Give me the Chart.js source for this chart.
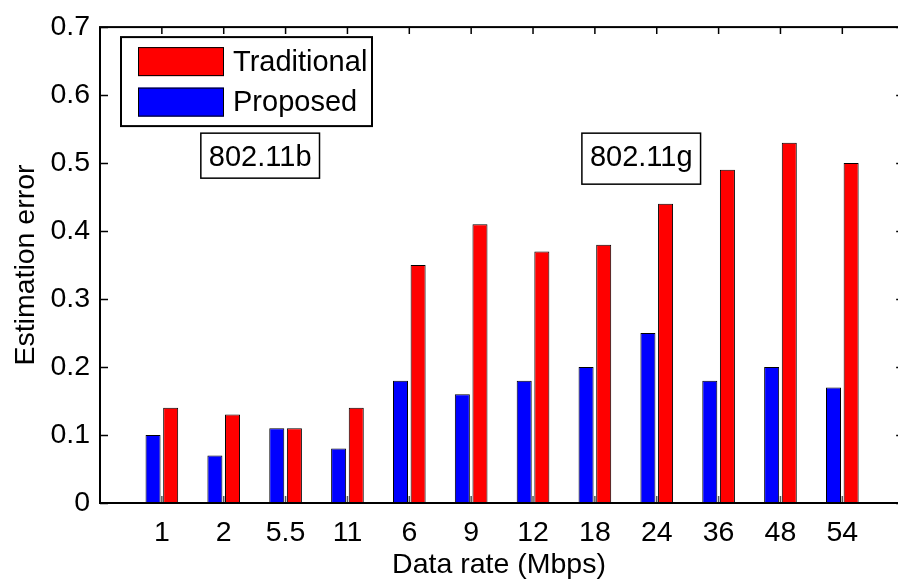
<!DOCTYPE html>
<html>
<head>
<meta charset="utf-8">
<script src="https://cdn.jsdelivr.net/npm/chart.js@4.4.1/dist/chart.umd.min.js"></script>
<style>
  html, body { margin: 0; padding: 0; background: #fff; overflow: hidden; }
  #wrap { width: 898px; height: 585px; }
</style>
</head>
<body>
<div id="wrap"><canvas id="c" width="898" height="585"></canvas></div>
<script>
// Data rates (Mbps): 802.11b rates then 802.11g rates
const categories = ['1', '2', '5.5', '11', '6', '9', '12', '18', '24', '36', '48', '54'];
const proposed    = [0.10, 0.07, 0.11, 0.08, 0.18, 0.16, 0.18, 0.20, 0.25, 0.18, 0.20, 0.17];
const traditional = [0.14, 0.13, 0.11, 0.14, 0.35, 0.41, 0.37, 0.38, 0.44, 0.49, 0.53, 0.50];
const yTicks = [0, 0.1, 0.2, 0.3, 0.4, 0.5, 0.6, 0.7];
// Standard labels placed over each group of rates: [text, x (category units), y top (value units)]
const standardLabels = [['802.11b', 1.63, 0.544], ['802.11g', 7.79, 0.544]];

const FONT = "'Liberation Sans', Arial, Helvetica, sans-serif";
const AXIS_SIZE = 28.5;
const BOX_SIZE = 29;
const X_LIMIT = 13;   // the axis box closes at x = 13, just past the canvas edge

// Axis box, inward ticks, legend and standard labels
const decorations = {
  id: 'decorations',
  afterDatasetsDraw(chart) {
    const { ctx, chartArea: a, scales: { x, y } } = chart;
    const right = x.getPixelForValue(X_LIMIT);
    ctx.save();
    // inward tick marks
    ctx.strokeStyle = '#000';
    ctx.lineWidth = 1.5;
    ctx.beginPath();
    yTicks.forEach(v => {
      const py = Math.round(y.getPixelForValue(v)) + 0.5;
      ctx.moveTo(a.left, py); ctx.lineTo(a.left + 8, py);
      ctx.moveTo(right, py); ctx.lineTo(right - 8, py);
    });
    categories.forEach((_, i) => {
      const px = x.getPixelForValue(i + 1);
      ctx.moveTo(px, a.top); ctx.lineTo(px, a.top + 7);
    });
    ctx.stroke();
    ctx.strokeStyle = '#555';
    ctx.beginPath();
    categories.forEach((_, i) => {
      const px = x.getPixelForValue(i + 1);
      ctx.moveTo(px, a.bottom); ctx.lineTo(px, a.bottom - 7);
    });
    ctx.stroke();
    // axis box
    ctx.strokeStyle = '#000';
    ctx.lineWidth = 2;
    ctx.strokeRect(a.left, a.top, right - a.left, a.bottom - a.top);

    // legend (Traditional listed first)
    const items = chart.data.datasets.slice().reverse();
    const lx = a.left + 21, ly = a.top + 10, lw = 251, lh = 89;
    ctx.fillStyle = '#fff';
    ctx.fillRect(lx, ly, lw, lh);
    ctx.lineWidth = 2;
    ctx.strokeRect(lx, ly, lw, lh);
    ctx.font = BOX_SIZE + 'px ' + FONT;
    ctx.textBaseline = 'middle';
    ctx.textAlign = 'left';
    items.forEach((ds, i) => {
      const sy = ly + 10 + i * 40.5;
      ctx.fillStyle = ds.backgroundColor;
      ctx.fillRect(lx + 17, sy, 86, 29);
      ctx.lineWidth = 1;
      ctx.strokeStyle = '#000';
      ctx.strokeRect(lx + 17.5, sy + 0.5, 85, 28);
      ctx.fillStyle = '#000';
      ctx.fillText(ds.label, lx + 112, sy + 15.5);
    });

    // standard labels in boxes
    ctx.textBaseline = 'alphabetic';
    standardLabels.forEach(([txt, vx, vy]) => {
      const bx = x.getPixelForValue(vx);
      const by = y.getPixelForValue(vy);
      const m = ctx.measureText(txt);
      const asc = 21, desc = m.actualBoundingBoxDescent > 1 ? m.actualBoundingBoxDescent : 0;
      const w = m.width + 16, h = asc + desc + 24;
      ctx.fillStyle = '#fff';
      ctx.fillRect(bx, by, w, h);
      ctx.lineWidth = 1.5;
      ctx.strokeStyle = '#000';
      ctx.strokeRect(bx, by, w, h);
      ctx.fillStyle = '#000';
      ctx.fillText(txt, bx + 8, by + 12 + asc);
    });
    ctx.restore();
  }
};

new Chart(document.getElementById('c'), {
  type: 'bar',
  data: {
    datasets: [
      {
        label: 'Proposed',
        data: proposed.map((v, i) => ({ x: i + 1, y: v })),
        backgroundColor: '#0000ff',
        borderColor: '#000',
        borderWidth: 1
      },
      {
        label: 'Traditional',
        data: traditional.map((v, i) => ({ x: i + 1, y: v })),
        backgroundColor: '#ff0000',
        borderColor: '#000',
        borderWidth: 1
      }
    ]
  },
  options: {
    responsive: false,
    animation: false,
    events: [],
    categoryPercentage: 0.57,
    barPercentage: 0.852,
    layout: { padding: { left: 0, top: 19, right: 0, bottom: 0 } },
    plugins: { legend: { display: false }, tooltip: { enabled: false } },
    scales: {
      x: {
        type: 'linear',
        offset: false,
        min: 0,
        max: 12.9,
        grid: { display: false, drawTicks: false, offset: false },
        border: { display: false },
        afterBuildTicks: s => { s.ticks = categories.map((_, i) => ({ value: i + 1 })); },
        afterFit: s => { s.height = 82; s.paddingLeft = 0; s.paddingRight = 0; },
        ticks: {
          color: '#000',
          font: { family: FONT, size: AXIS_SIZE },
          padding: 13,
          maxRotation: 0,
          autoSkip: false,
          callback: v => categories[v - 1]
        },
        title: {
          display: true,
          text: 'Data rate (Mbps)',
          color: '#000',
          font: { family: FONT, size: AXIS_SIZE },
          padding: { top: 0, bottom: 3 }
        }
      },
      y: {
        min: 0,
        max: 0.7,
        grid: { display: false, drawTicks: false },
        border: { display: false },
        afterBuildTicks: s => { s.ticks = yTicks.map(v => ({ value: v })); },
        afterFit: s => { s.width = 100; },
        ticks: {
          color: '#000',
          font: { family: FONT, size: AXIS_SIZE },
          padding: 10,
          callback: v => String(Math.round(v * 10) / 10)
        },
        title: {
          display: true,
          text: 'Estimation error',
          color: '#000',
          font: { family: FONT, size: AXIS_SIZE },
          padding: { top: 9, bottom: 0 }
        }
      }
    }
  },
  plugins: [decorations]
});
</script>
</body>
</html>
